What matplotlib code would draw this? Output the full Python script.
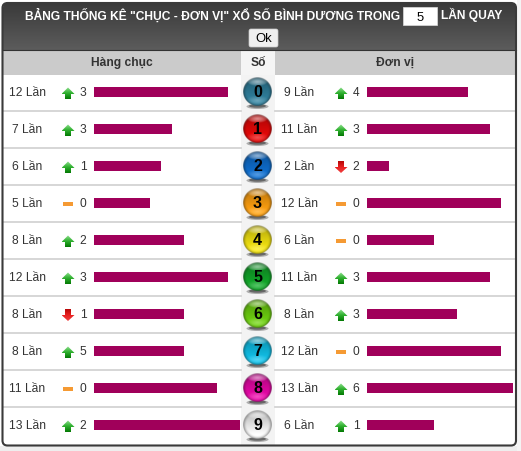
import numpy as np
import matplotlib
matplotlib.use("Agg")
import matplotlib.pyplot as plt
from matplotlib.patches import FancyBboxPatch, Rectangle, Polygon, Ellipse
from matplotlib.colors import to_rgb

plt.rcParams['font.family'] = ['Liberation Sans', 'DejaVu Sans']

digits = list(range(10))
tens_counts = [12, 7, 6, 5, 8, 12, 8, 8, 11, 13]
tens_delta = [3, 3, 1, 0, 2, 3, 1, 5, 0, 2]
tens_trend = ['up', 'up', 'up', 'flat', 'up', 'up', 'down', 'up', 'flat', 'up']
units_counts = [9, 11, 2, 12, 6, 11, 8, 12, 13, 6]
units_delta = [4, 3, 2, 0, 0, 3, 3, 0, 6, 1]
units_trend = ['up', 'up', 'down', 'flat', 'flat', 'up', 'up', 'flat', 'up', 'up']
ball_colors = ['#2f7f9c', '#e80808', '#0f6fd0', '#ffa010', '#f4e410', '#12a82a',
               '#6ed010', '#10c0e8', '#e808a8', '#f8f8f8']
title_text = 'BẢNG THỐNG KÊ "CHỤC - ĐƠN VỊ" XỔ SỐ BÌNH DƯƠNG TRONG'
W, H = 521, 451
FS = 8.64
BAR = '#a0005a'
TXT = '#333333'

fig = plt.figure(figsize=(W / 100, H / 100), dpi=100, facecolor='white')
ax = fig.add_axes([0, 0, 1, 1])
ax.set_xlim(0, W)
ax.set_ylim(H, 0)
ax.axis('off')

# page shadow
ax.add_patch(Rectangle((0, 446), W, 5, fc='#eeeeee', ec='none'))
ax.add_patch(Rectangle((517, 0), 4, H, fc='#f4f4f4', ec='none'))

# dark title band with gradient
grad = np.linspace(0, 1, 64)[:, None]
c0, c1 = np.array(to_rgb('#3a3a3a')), np.array(to_rgb('#5c5c5c'))
img = (c0 + (c1 - c0) * grad)[:, None, :].reshape(64, 1, 3)
band = ax.imshow(img, extent=(3, 516, 50, 3), aspect='auto', zorder=1)
clip = FancyBboxPatch((3, 3), 513, 60, boxstyle='round,pad=0,rounding_size=5',
                      fc='none', ec='none', transform=ax.transData)
ax.add_patch(clip)
band.set_clip_path(clip)

# column header
ax.add_patch(Rectangle((3, 50), 513, 25, fc='#cbcbcb', ec='none', zorder=1))
ax.add_patch(Rectangle((241, 50), 34, 25, fc='#f5f5f5', ec='none', zorder=1.2))
ax.add_patch(Rectangle((241, 75), 34, 371, fc='#f3f3f3', ec='none', zorder=1))
ax.plot([3, 516], [49.5, 49.5], color='#333333', lw=0.8, zorder=2)

# outer frame
ax.add_patch(FancyBboxPatch((2.5, 3), 513.5, 442.5, boxstyle='round,pad=0,rounding_size=5',
                            fc='none', ec='#3a3a3a', lw=1.5, zorder=6))

# title texts
ax.text(25, 19.5, title_text, color='white', fontsize=FS, fontweight='bold',
        ha='left', va='baseline', zorder=5)
ax.add_patch(Rectangle((403, 7), 34, 18, fc='white', ec='#dddddd', lw=0.5, zorder=4))
ax.text(420, 21, '5', color='black', fontsize=9.4, ha='center', va='baseline', zorder=5)
ax.text(441, 19.5, 'LẦN QUAY', color='white', fontsize=FS, fontweight='bold',
        ha='left', va='baseline', zorder=5)
ax.add_patch(FancyBboxPatch((249, 29), 29, 18, boxstyle='round,pad=0,rounding_size=2',
                            fc='#f0f0f0', ec='#cccccc', lw=0.5, zorder=4))
ax.text(263.5, 42, 'Ok', color='black', fontsize=9.4, ha='center', va='baseline', zorder=5)

for x, s in [(122, 'Hàng chục'), (258, 'Số'), (395, 'Đơn vị')]:
    ax.text(x, 66, s, color=TXT, fontsize=FS, fontweight='bold', ha='center', va='baseline', zorder=5)

# rows
row_y = [92 + 37 * d for d in digits]
for y in row_y[:-1]:
    ax.plot([3, 241], [y + 19, y + 19], color='#cfcfcf', lw=1.2, zorder=1.5)
    ax.plot([275, 516], [y + 19, y + 19], color='#cfcfcf', lw=1.2, zorder=1.5)

arrow_cmaps = {'up': ('#8fe08f', '#2fb02f', '#047a04'), 'down': ('#b80808', '#e82020', '#f04040')}


def arrow(x, y, kind):
    if kind == 'flat':
        ax.add_patch(Rectangle((x - 5, y - 1), 10, 3.5, fc='#f59a33', ec='none', zorder=3))
        return
    if kind == 'up':
        pts = [(x, y - 4.5), (x + 6.5, y + 2), (x + 3, y + 2), (x + 3, y + 7), (x - 3, y + 7), (x - 3, y + 2), (x - 6.5, y + 2)]
        top, bot = y - 4.5, y + 7
    else:
        pts = [(x, y + 7), (x + 6.5, y + 1), (x + 3, y + 1), (x + 3, y - 5), (x - 3, y - 5), (x - 3, y + 1), (x - 6.5, y + 1)]
        top, bot = y - 5, y + 7
    a, b, c = [np.array(to_rgb(v)) for v in arrow_cmaps[kind]]
    t = np.linspace(0, 1, 24)[:, None]
    g = np.where(t < 0.5, a + (b - a) * t * 2, b + (c - b) * (t - 0.5) * 2).reshape(24, 1, 3)
    im = ax.imshow(g, extent=(x - 6.5, x + 6.5, bot, top), aspect='auto', zorder=3)
    poly = Polygon(pts, fc='none', ec='none', transform=ax.transData)
    ax.add_patch(poly)
    im.set_clip_path(poly)


for d, y in zip(digits, row_y):
    ax.text(27.5, y + 4, f'{tens_counts[d]} Lần', color=TXT, fontsize=FS, ha='center', va='baseline', zorder=5)
    arrow(68, y, tens_trend[d])
    ax.text(83, y + 4, str(tens_delta[d]), color=TXT, fontsize=FS, ha='center', va='baseline', zorder=5)
    ax.text(299.5, y + 4, f'{units_counts[d]} Lần', color=TXT, fontsize=FS, ha='center', va='baseline', zorder=5)
    arrow(341, y, units_trend[d])
    ax.text(356, y + 4, str(units_delta[d]), color=TXT, fontsize=FS, ha='center', va='baseline', zorder=5)


# bars on their own scaled axes
def bar_axes(x0):
    a = fig.add_axes([x0 / W, 1 - 443.5 / H, 145.5 / W, 370 / H])
    a.set_xlim(0, 13)
    a.set_ylim(9.5, -0.5)
    a.axis('off')
    a.patch.set_alpha(0)
    return a


ax_l = bar_axes(94)
ax_l.barh(digits, tens_counts, height=10 / 37, color=BAR, zorder=2)
ax_r = bar_axes(367)
ax_r.barh(digits, units_counts, height=10 / 37, color=BAR, zorder=2)

# balls
n = 120
yy, xx = np.mgrid[-1:1:n * 1j, -1:1:n * 1j]
rr = np.hypot(xx, yy)
for d, y in zip(digits, row_y):
    base = np.array(to_rgb(ball_colors[d]))
    cx = 257.5
    cy = y - 0.5
    ax.add_patch(Ellipse((cx, cy + 15), 22, 5, fc='#444444', ec='none', alpha=0.4, zorder=2))
    ax.add_patch(Ellipse((cx, cy + 14.5), 17, 3.5, fc='#222222', ec='none', alpha=0.5, zorder=2.1))
    # darker at top, bright base colour below, darker ring at the edge
    vert = 0.72 + 0.36 * (yy + 1) / 2
    edge = 1 - 0.45 * np.clip((rr - 0.72) / 0.28, 0, 1) ** 2
    rgb = np.clip(base[None, None, :] * (vert * edge)[:, :, None], 0, 1)
    # glow at lower part
    glow = np.clip(1 - np.hypot(xx / 0.8, (yy - 0.62) / 0.35), 0, 1)[:, :, None]
    rgb = rgb + (1 - rgb) * glow * 0.3
    # top glossy highlight
    gloss = np.clip(1 - np.hypot(xx / 0.7, (yy + 0.68) / 0.28), 0, 1)[:, :, None] ** 0.6
    rgb = rgb + (1 - rgb) * gloss * 0.55
    # thin pale rim at top
    rim = np.clip((rr - 0.88) / 0.12, 0, 1)[:, :, None] * np.clip(-yy, 0, 1)[:, :, None]
    rgb = rgb + (0.85 - rgb) * rim * 0.6
    alpha = np.clip((1 - rr) * n / 2, 0, 1)[:, :, None]
    ax.imshow(np.dstack([rgb, alpha]), extent=(cx - 14.5, cx + 14.5, cy + 14.5, cy - 14.5),
              aspect='auto', zorder=3, interpolation='bilinear')
    ax.text(cx, cy + 5.5, str(d), color='black', fontsize=11.5, fontweight='bold', ha='center', va='baseline', zorder=5)
ax.set_xlim(0, W)
ax.set_ylim(H, 0)

fig.savefig('out.png', dpi=100)
